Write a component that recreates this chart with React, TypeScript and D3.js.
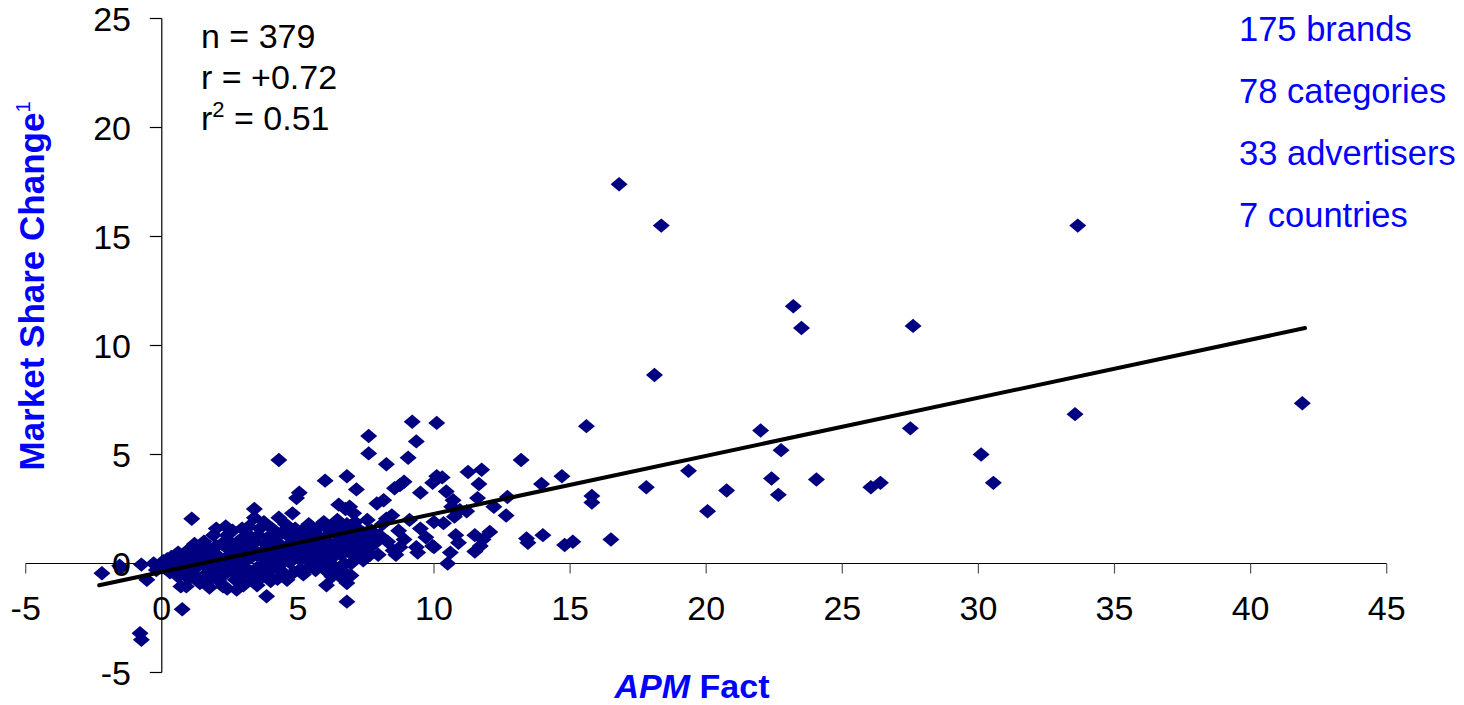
import { useEffect, useRef } from 'react'
import * as d3 from 'd3'

// APM Fact (x) vs market share change (y), one [x, y] pair per brand-period
const leftPoints: [number, number][] = [
  [-2.2, -0.45], [-1.55, -0.1], [-1.5, -0.2], [-0.75, -0.05], [-0.55, -0.75], [-0.3, 0.0], [-0.2, -0.3],
  [-0.8, -3.2], [-0.75, -3.5],
  [0.05, 0.1], [0.1, -0.2], [0.35, 0.3], [0.3, -0.4], [0.55, 0.0], [0.6, -0.6], [0.7, -1.05], [0.75, -2.1],
  [0.8, 0.4], [0.85, -0.3], [0.9, -1.05], [0.95, 0.6], [1.0, 0.15], [1.0, -0.7], [0.4, 0.1], [0.6, 0.5],
  [1.1, 2.05], [1.2, 0.9], [1.25, -0.2], [1.3, 0.5], [1.4, -0.9], [1.5, 0.2], [1.55, 1.0], [1.6, -0.5],
  [1.7, 0.7], [1.75, -1.1], [1.8, 0.0], [1.9, 1.3], [1.95, -0.4], [2.0, 1.6], [2.0, 0.4], [1.1, -0.4],
  [1.3, 0.1], [1.6, 0.4], [1.8, -0.7], [1.5, 0.6], [2.0, 0.8], [0.2, 0.2], [0.7, 0.2], [1.2, -0.6],
  [1.4, 0.8], [1.7, -0.2], [1.9, 0.3], [0.9, 0.0], [1.15, 0.35],
]

const corePoints: [number, number][] = [
  [2.1, -0.8], [2.2, 0.9], [2.25, -1.05], [2.3, 0.1], [2.4, 1.3], [2.4, -1.15], [2.5, 0.6], [2.55, -0.3],
  [2.6, 1.5], [2.7, 0.2], [2.75, -1.2], [2.8, 1.0], [2.85, -0.6], [2.9, 0.5], [2.95, 1.6], [3.0, -0.1],
  [3.0, -1.0], [2.1, 0.3], [2.3, -0.5], [2.6, 0.0], [2.8, -0.3], [2.5, 1.0], [2.9, -0.8], [3.0, 1.2],
  [3.1, 0.8], [3.2, 1.3], [3.25, -0.5], [3.3, 0.3], [3.4, 2.5], [3.4, 2.1], [3.45, 1.0], [3.5, -0.2],
  [3.5, -1.0], [3.6, 1.6], [3.65, 0.5], [3.7, -0.6], [3.75, 1.9], [3.8, 0.0], [3.85, -1.5], [3.9, 1.2],
  [3.95, 0.7], [4.0, -0.3], [3.1, 0.2], [3.3, 0.7], [3.5, 0.4], [3.8, 0.9], [4.0, 0.5], [3.6, -0.3],
  [4.0, -0.8], [4.05, 1.6], [4.1, 0.3], [4.2, 1.0], [4.25, -0.7], [4.3, 4.75], [4.3, 0.6], [4.35, -0.3],
  [4.4, 1.4], [4.5, 0.1], [4.55, 1.8], [4.6, -0.75], [4.65, 0.8], [4.7, 1.2], [4.8, 2.3], [4.8, 0.4],
  [4.85, -0.4], [4.9, 1.6], [4.95, 3.0], [5.0, 0.9], [4.2, 0.0], [4.4, 0.8], [4.6, 0.4], [4.8, 1.0],
  [4.6, 1.5], [5.05, 3.25], [5.1, 0.2], [5.15, 1.5], [5.2, -0.5], [5.3, 1.1], [5.35, 0.5], [5.4, 1.8],
  [5.5, 0.0], [5.55, 0.8], [5.6, 1.4], [5.65, -0.3], [5.7, 0.4], [5.8, 1.7], [5.85, 1.0], [5.9, -0.1],
  [5.95, 1.9], [6.0, 0.6], [5.0, 0.3], [5.2, 0.6], [5.4, 1.2], [5.6, 0.2], [5.8, 0.6], [5.2, 1.3],
  [5.4, -0.2], [6.0, 3.8], [6.05, -1.0], [6.1, 1.3], [6.2, 0.2], [6.25, -0.6], [6.3, 1.7], [6.35, 0.9],
  [6.4, -0.2], [6.45, 2.0], [6.5, 2.7], [6.5, 0.5], [6.55, -0.6], [6.6, 1.2], [6.7, 0.0], [6.75, 2.5],
  [6.8, 4.0], [6.8, 1.8], [6.8, -0.9], [6.8, -1.75], [6.85, 0.7], [6.9, 2.6], [7.0, 1.3], [7.05, 2.3],
  [7.1, 0.3], [6.0, 1.1], [6.2, 0.8], [6.4, 1.4], [6.6, 0.4], [6.8, 1.0], [7.0, 0.6], [6.0, -0.3],
  [7.15, 3.4], [7.2, 1.6], [7.3, 0.8], [7.4, 0.15], [7.5, 1.1], [7.55, 2.0], [7.6, 5.85], [7.6, 5.05],
  [7.65, 0.4], [7.7, 1.5], [7.8, 0.9], [7.9, 2.75], [7.95, 0.4], [8.0, 1.3], [7.2, 1.0], [7.4, 1.3],
  [7.6, 0.8], [7.8, 1.3], [2.2, -0.2], [2.45, 0.35], [2.7, -0.75], [2.75, 0.75], [3.15, -0.35],
  [3.35, -0.75], [3.55, 1.3], [3.7, 0.25], [3.9, -0.55], [4.15, 1.3], [4.45, -0.5], [4.7, 0.05],
  [4.9, 0.65], [5.1, -0.25], [5.25, 0.85], [5.5, 1.6], [5.7, -0.05], [5.75, 1.25], [5.95, 0.3],
  [6.15, 1.55], [6.3, 0.45], [6.55, 0.85], [6.7, 1.5], [6.95, 0.0], [7.1, 1.9], [7.3, 0.5], [7.5, 0.6],
  [6.65, -0.35], [6.95, -0.55], [3.2, 1.7], [4.3, 2.1], [2.35, 1.7],
]

const midPoints: [number, number][] = [
  [8.1, 1.8], [8.15, 2.9], [8.25, 4.55], [8.25, 2.05], [8.3, 1.0], [8.45, 2.2], [8.5, 0.6], [8.55, 3.45],
  [8.6, 0.4], [8.7, 1.5], [8.75, 3.6], [8.75, 0.75], [8.9, 3.75], [8.9, 1.1], [9.05, 4.85], [9.1, 2.0],
  [9.2, 6.5], [9.35, 5.6], [9.35, 0.75], [9.4, 0.5], [9.5, 3.25], [9.5, 1.6], [9.7, 1.2], [9.95, 3.7],
  [9.95, 0.8], [10.0, 0.75], [10.1, 4.0], [10.1, 6.45], [10.0, 1.9], [10.3, 3.95], [10.35, 1.85],
  [10.45, 3.3], [10.5, 0.0], [10.6, 0.5], [10.65, 2.6], [10.7, 2.9], [10.75, 2.15], [10.8, 1.3],
  [10.9, 0.95], [10.95, 2.45], [11.2, 2.4], [11.25, 4.2], [11.5, 1.3], [11.5, 0.55], [11.6, 3.0],
  [11.65, 3.65], [11.7, 0.8], [11.75, 4.3], [11.8, 1.1], [12.05, 1.45], [12.2, 2.6], [12.65, 2.2],
  [12.7, 3.05], [13.2, 4.75], [13.4, 1.15], [13.45, 0.95], [13.95, 3.65], [14.0, 1.3], [14.7, 4.0],
  [14.8, 0.85], [15.1, 1.0], [15.6, 6.3], [15.8, 3.1], [15.8, 2.8], [16.5, 1.1],
]

const outlierPoints: [number, number][] = [
  [16.8, 17.4], [18.35, 15.5], [33.65, 15.5], [23.2, 11.8], [23.5, 10.8], [27.6, 10.9], [18.1, 8.65],
  [41.9, 7.35], [33.55, 6.85], [27.5, 6.2], [22.0, 6.1], [22.75, 5.2], [19.35, 4.25], [17.8, 3.5],
  [20.75, 3.35], [22.4, 3.9], [22.65, 3.15], [20.05, 2.4], [24.05, 3.85], [26.05, 3.5], [26.4, 3.7],
  [30.1, 5.0], [30.55, 3.7],
]

const xTicks = [-5, 0, 5, 10, 15, 20, 25, 30, 35, 40, 45]
const yTicks = [-5, 0, 5, 10, 15, 20, 25]

// least-squares line as shown on the chart (end points)
const trendX = [-2.3, 42]
const trendY = [-1.0, 10.8]

const statLines = ['n = 379', 'r = +0.72']
const sampleLines = ['175 brands', '78 categories', '33 advertisers', '7 countries']

const NAVY = '#000080'
const BLUE = '#0000FF'
const FONT = 'Liberation Sans, Arial, Helvetica, sans-serif'

export default function App() {
  const ref = useRef<SVGSVGElement>(null)

  useEffect(() => {
    if (!ref.current) return
    const width = 1464
    const height = 705

    const svg = d3.select(ref.current)
    svg.selectAll('*').remove()
    svg.attr('width', width).attr('height', height).style('font-family', FONT)

    const x = d3.scaleLinear().domain([-5, 45]).range([25.7, 1386.7])
    const y = d3.scaleLinear().domain([-5, 25]).range([672.5, 18.5])

    // axes lines
    svg.append('line')
      .attr('x1', x(-5)).attr('x2', x(45))
      .attr('y1', y(0)).attr('y2', y(0))
      .attr('stroke', '#000').attr('stroke-width', 1.2)
    svg.append('line')
      .attr('x1', x(0)).attr('x2', x(0))
      .attr('y1', y(25)).attr('y2', y(-5))
      .attr('stroke', '#000').attr('stroke-width', 1.2)

    svg.selectAll('.xtick').data(xTicks).enter().append('line')
      .attr('x1', (d) => x(d)).attr('x2', (d) => x(d))
      .attr('y1', y(0)).attr('y2', y(0) + 10)
      .attr('stroke', '#555').attr('stroke-width', 1.2)
    svg.selectAll('.ytick').data(yTicks).enter().append('line')
      .attr('x1', x(0) - 12).attr('x2', x(0))
      .attr('y1', (d) => y(d)).attr('y2', (d) => y(d))
      .attr('stroke', '#000').attr('stroke-width', 1.2)

    // points
    const allPoints = [...leftPoints, ...corePoints, ...midPoints, ...outlierPoints]
    const hw = 8.5
    const hh = 7.2
    svg.append('g').selectAll('path').data(allPoints).enter().append('path')
      .attr('d', (d) => {
        const cx = x(d[0])
        const cy = y(d[1])
        return `M${cx - hw},${cy}L${cx},${cy - hh}L${cx + hw},${cy}L${cx},${cy + hh}Z`
      })
      .attr('fill', NAVY)

    // trend line
    svg.append('line')
      .attr('x1', x(trendX[0])).attr('y1', y(trendY[0]))
      .attr('x2', x(trendX[1])).attr('y2', y(trendY[1]))
      .attr('stroke', '#000').attr('stroke-width', 4)
      .attr('stroke-linecap', 'round')

    // tick labels
    svg.selectAll('.xlab').data(xTicks).enter().append('text')
      .attr('x', (d) => x(d)).attr('y', 620)
      .attr('text-anchor', 'middle')
      .attr('font-size', 34)
      .text((d) => d)
    svg.selectAll('.ylab').data(yTicks).enter().append('text')
      .attr('x', 131).attr('y', (d) => y(d) + 12)
      .attr('text-anchor', 'end')
      .attr('font-size', 34)
      .text((d) => d)

    // stats
    statLines.forEach((s, i) => {
      svg.append('text').attr('x', 201).attr('y', 48 + i * 41)
        .attr('font-size', 34).text(s)
    })
    const r2 = svg.append('text').attr('x', 201).attr('y', 130).attr('font-size', 34)
    r2.append('tspan').text('r')
    r2.append('tspan').attr('font-size', 22).attr('dy', -13).text('2')
    r2.append('tspan').attr('dy', 13).text(' = 0.51')

    sampleLines.forEach((s, i) => {
      svg.append('text').attr('x', 1239).attr('y', 41 + i * 62)
        .attr('font-size', 34.5).attr('fill', BLUE).text(s)
    })

    // axis titles
    const xt = svg.append('text').attr('x', 692).attr('y', 698)
      .attr('text-anchor', 'middle').attr('font-size', 34)
      .attr('font-weight', 'bold').attr('fill', BLUE)
    xt.append('tspan').attr('font-style', 'italic').text('APM')
    xt.append('tspan').text(' Fact')

    const yt = svg.append('text')
      .attr('transform', 'translate(44,286) rotate(-90)')
      .attr('text-anchor', 'middle').attr('font-size', 35)
      .attr('font-weight', 'bold').attr('fill', BLUE)
    yt.append('tspan').text('Market Share Change')
    yt.append('tspan').attr('font-size', 20).attr('font-weight', 'normal').attr('dy', -14).text('1')

    return () => { svg.selectAll('*').remove() }
  }, [])

  return (
    <svg ref={ref} style={{ position: 'absolute', left: 0, top: 0, background: '#fff' }} />
  )
}
